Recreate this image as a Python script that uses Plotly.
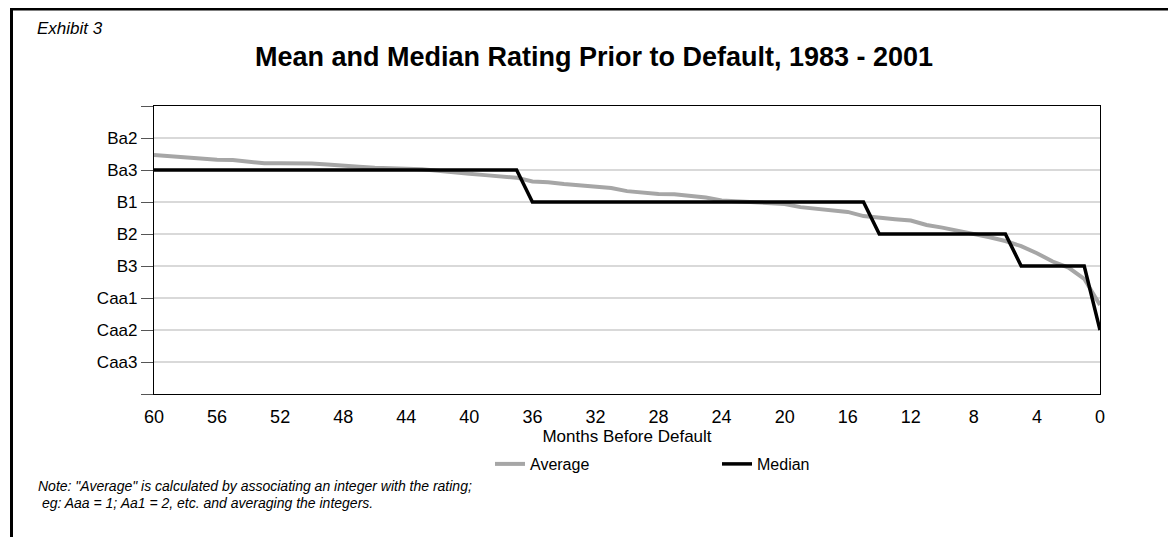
import plotly.graph_objects as go

# Months before default (60 ... 0)
months = list(range(60, -1, -1))

# Rating scale (Moody's integer mapping: Aaa=1, Aa1=2, ... Ba1=11 ... Ca=20)
rating_values = [11, 12, 13, 14, 15, 16, 17, 18, 19, 20]
rating_labels = ["", "Ba2", "Ba3", "B1", "B2", "B3", "Caa1", "Caa2", "Caa3", ""]

# Average rating (integer scale) by months before default
average = [
    12.53, 12.57, 12.62, 12.66, 12.68, 12.69, 12.74, 12.79, 12.79, 12.79,   # 60-51
    12.80, 12.83, 12.85, 12.90, 12.93, 12.94, 12.98, 12.98, 13.02, 13.08,   # 50-41
    13.12, 13.16, 13.19, 13.24, 13.36, 13.38, 13.44, 13.47, 13.50, 13.56,   # 40-31
    13.66, 13.72, 13.75, 13.76, 13.80, 13.86, 13.95, 13.98, 14.01, 14.04,   # 30-21
    14.06, 14.16, 14.21, 14.25, 14.31, 14.44, 14.50, 14.54, 14.58, 14.72,   # 20-11
    14.80, 14.90, 14.98, 15.10, 15.22, 15.38, 15.60, 15.86, 16.05, 16.40,   # 10-1
    17.22,                                                                  # 0
]

# Median rating (integer scale) by months before default
median = (
    [13] * 24 +   # 60-37  Ba3
    [14] * 22 +   # 36-15  B1
    [15] * 9 +    # 14-6   B2
    [16] * 5 +    # 5-1    B3
    [18]          # 0      Caa2
)

x_ticks = list(range(60, -1, -4))

FONT = "Liberation Sans, Arial, Helvetica, sans-serif"

# Figure geometry (figure pixels; the page adds an 8px body margin)
W, H = 1176, 537
L, T = 146, 98
PLOT_R, PLOT_B = 1092, 386
R, B = W - PLOT_R, H - PLOT_B
PW, PH = PLOT_R - L, PLOT_B - T


def px(x):
    return (x - L) / PW


def py(y):
    return (PLOT_B - y) / PH


fig = go.Figure()
fig.add_trace(go.Scatter(
    x=months, y=average, mode="lines", name="Average",
    line=dict(color="#a6a6a6", width=4),
))
fig.add_trace(go.Scatter(
    x=months, y=median, mode="lines", name="Median",
    line=dict(color="#000000", width=3.5),
))

fig.update_layout(
    width=W, height=H,
    margin=dict(l=L, r=R, t=T, b=B),
    paper_bgcolor="white", plot_bgcolor="white",
    font=dict(family=FONT, color="#000000", size=16),
    title=dict(
        text="<b>Mean and Median Rating Prior to Default, 1983 - 2001</b>",
        x=586 / W, xanchor="center", xref="container",
        y=1 - 49 / H, yanchor="middle", yref="container",
        font=dict(family=FONT, size=27, color="#000000"),
    ),
    xaxis=dict(
        range=[60, 0],
        tickmode="array", tickvals=x_ticks, ticktext=[str(v) for v in x_ticks],
        showgrid=False, zeroline=False,
        showline=True, linecolor="#000000", linewidth=1.2, mirror=True,
        ticks="outside", ticklen=6, tickcolor="rgba(0,0,0,0)",
        tickfont=dict(size=18, family=FONT),
        title=dict(text="Months Before Default", standoff=4,
                   font=dict(size=17, family=FONT)),
    ),
    yaxis=dict(
        range=[20, 11],
        tickmode="array", tickvals=rating_values, ticktext=rating_labels,
        showgrid=True, gridcolor="#d9d9d9", gridwidth=1.5,
        zeroline=False,
        showline=True, linecolor="#000000", linewidth=1.2, mirror=True,
        ticks="outside", ticklen=12, tickcolor="#555555", tickwidth=1.2,
        tickfont=dict(size=17, family=FONT),
    ),
    legend=dict(
        orientation="h",
        x=px(482), xanchor="left",
        y=py(456), yanchor="middle",
        entrywidth=182, entrywidthmode="pixels",
        font=dict(size=16, family=FONT),
        bgcolor="rgba(0,0,0,0)",
        traceorder="normal",
    ),
    showlegend=True,
)

# Outer exhibit frame (top and left rules)
fig.add_shape(type="line", xref="paper", yref="paper",
              x0=px(2), x1=px(W + 5), y0=py(1), y1=py(1),
              line=dict(color="#000000", width=3))
fig.add_shape(type="line", xref="paper", yref="paper",
              x0=px(3.5), x1=px(3.5), y0=py(0), y1=py(H + 5),
              line=dict(color="#000000", width=3))

fig.add_annotation(
    text="<i>Exhibit 3</i>", xref="paper", yref="paper",
    x=px(27), y=py(20), xanchor="left", yanchor="middle",
    showarrow=False, font=dict(size=17, family=FONT),
)
fig.add_annotation(
    text="<i>Note: \"Average\" is calculated by associating an integer with the rating;</i>",
    xref="paper", yref="paper",
    x=px(28), y=py(478), xanchor="left", yanchor="middle",
    showarrow=False, font=dict(size=14, family=FONT),
)
fig.add_annotation(
    text="<i>\u00a0eg: Aaa = 1; Aa1 = 2, etc. and averaging the integers.</i>",
    xref="paper", yref="paper",
    x=px(28), y=py(495), xanchor="left", yanchor="middle",
    showarrow=False, font=dict(size=14, family=FONT),
)

fig.write_html("out.html")
